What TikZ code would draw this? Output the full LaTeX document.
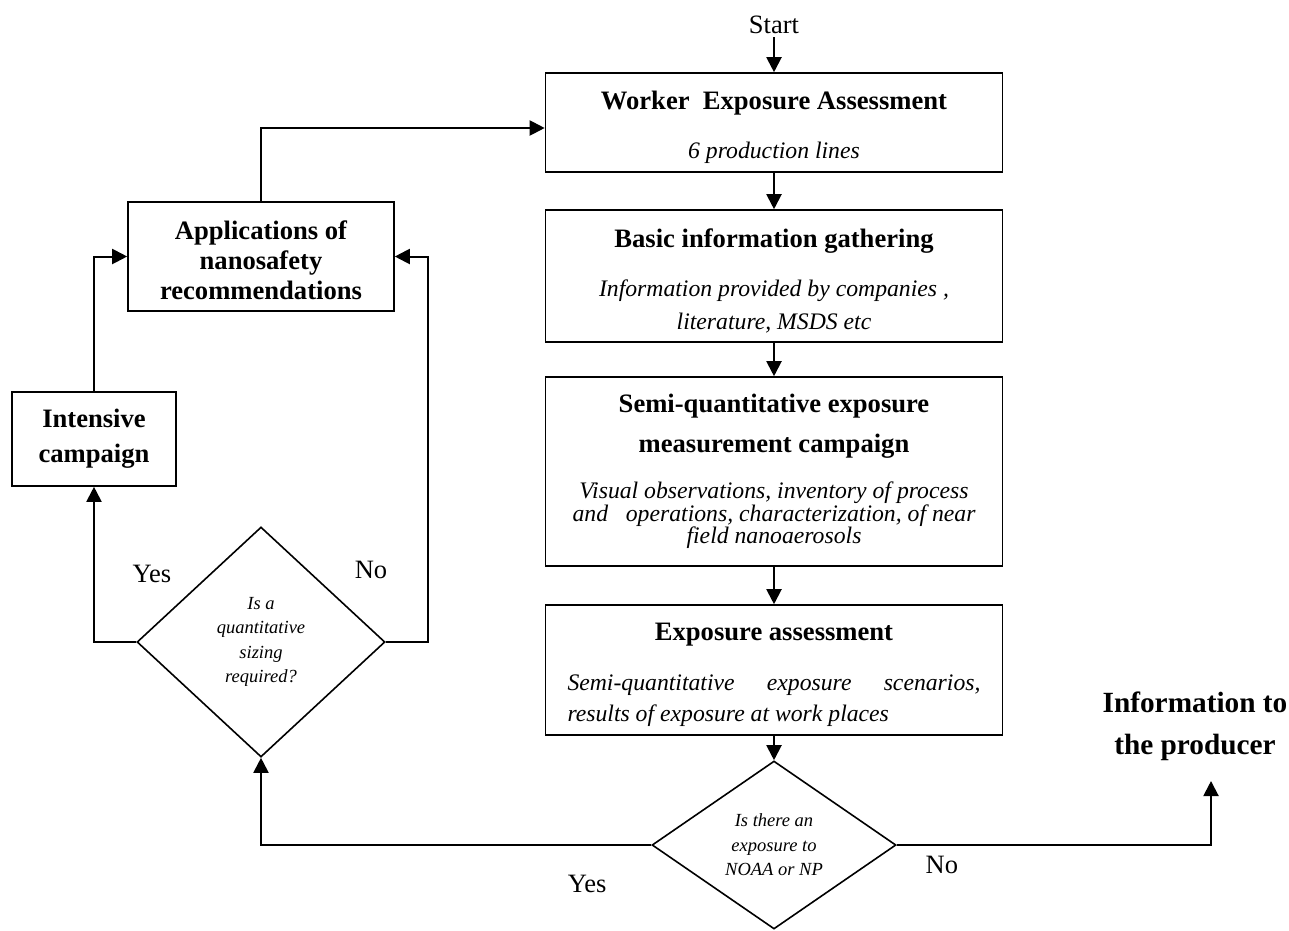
\documentclass[tikz,border=0pt]{standalone}
\usepackage{fontspec}
\setmainfont{Liberation Serif}
\usetikzlibrary{arrows.meta,positioning,shapes.geometric}

\newcommand{\titlefont}{\fontsize{26.6}{32}\selectfont\bfseries}
\newcommand{\notefont}{\fontsize{23.7}{32}\selectfont\itshape}

\begin{document}
\begin{tikzpicture}[x=1pt,y=-1pt,on grid,
	>={Triangle[length=15pt,width=15pt]},
	box/.style={draw,line width=1.6pt,align=center,inner sep=0pt,font=\fontsize{23.7}{32}\selectfont},
	decision/.style={draw,diamond,line width=1.6pt,align=center,inner sep=0pt,font=\fontsize{18.5}{24.5}\selectfont\itshape},
	answer/.style={font=\fontsize{26.5}{32}\selectfont},
	flow/.style={->,line width=2pt}]
	\useasboundingbox (0,0) rectangle (1289,930);

	\node[answer] (start) at (774,25) {Start};
	\node[box,minimum width=457pt,minimum height=99pt] (w) [below=97.5pt of start]
		{\rule{0pt}{28pt}{\titlefont Worker\ \ Exposure Assessment}\\[17pt]{\notefont 6 production lines}};
	\node[box,minimum width=457pt,minimum height=132pt] (b2) [below=153.5pt of w]
		{\rule{0pt}{28pt}{\titlefont Basic information gathering}\\[17pt]{\notefont Information provided by companies ,}\\[1pt]{\notefont literature, MSDS etc}};
	\node[box,minimum width=457pt,minimum height=189pt] (b3) [below=195.5pt of b2]
		{{\titlefont Semi-quantitative exposure}\\[8pt]{\titlefont measurement campaign}\\[14pt]{\notefont Visual observations, inventory of process}\\[-9.5pt]{\notefont and\ \ \ operations, characterization, of near}\\[-9.5pt]{\notefont field nanoaerosols}};
	\node[box,minimum width=457pt,minimum height=130pt] (b4) [below=198.5pt of b3]
		{\rule{0pt}{28pt}{\titlefont Exposure assessment}\\[18pt]{\notefont\makebox[413pt][s]{Semi-quantitative exposure scenarios,}}\\[-1pt]{\notefont\makebox[413pt][l]{results of exposure at work places}}};
	\node[decision,minimum width=244pt,minimum height=168pt] (d1) [below=175pt of b4]
		{Is there an\\exposure to\\NOAA or NP};

	\node[box,minimum width=266pt,minimum height=109pt,font=\titlefont] (app) at (261,256.5)
		{\rule{0pt}{26pt}Applications of\\[-2pt]nanosafety\\[-2pt]recommendations};
	\node[box,minimum width=164pt,minimum height=94pt,font=\titlefont] (int) [below left=182.5pt and 167pt of app]
		{Intensive\\[3pt]campaign};
	\node[decision,minimum width=248pt,minimum height=230pt] (d2) [below=385.5pt of app]
		{Is a\\quantitative\\sizing\\required?};

	\node[font=\fontsize{29.3}{42}\selectfont\bfseries,align=center] (info) at (1195,726)
		{Information to\\the producer};
	\coordinate (tip) at ([xshift=16pt,yshift=-55pt]info.center);

	\node[answer] (yes1) at ([xshift=-64pt,yshift=-39pt]d1.west) {Yes};
	\node[answer] (no1) at ([xshift=45pt,yshift=-20pt]d1.east) {No};
	\node[answer] (yes2) at ([xshift=-109pt,yshift=-48pt]d2.north) {Yes};
	\node[answer] (no2) at ([xshift=110pt,yshift=-44pt]d2.north) {No};

	\path[flow]
		(start) edge (w)
		(w) edge (b2)
		(b2) edge (b3)
		(b3) edge (b4)
		(b4) edge (d1);
	\draw[flow] (d1.west) -| (d2.south);
	\draw[flow] (d1.east) -| (tip);
	\draw[flow] (d2.west) -| (int.south);
	\draw[flow] (d2.east) -| ([xshift=33pt]app.east) -- (app.east);
	\draw[flow] (int.north) |- (app.west);
	\draw[flow] (app.north) |- ([yshift=-5.5pt]w.west);
\end{tikzpicture}
\end{document}
